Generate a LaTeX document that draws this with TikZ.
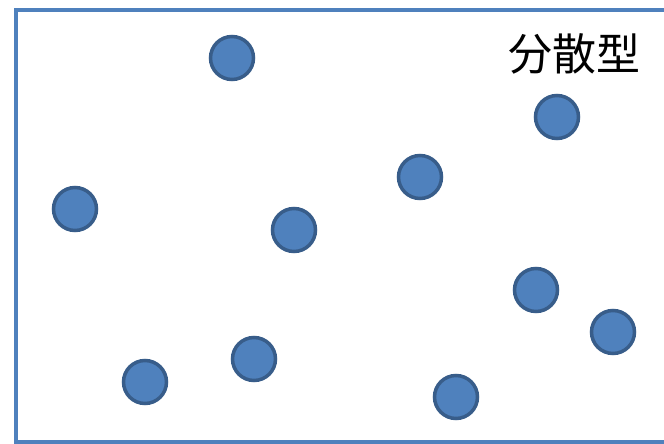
\documentclass[tikz,border=0pt]{standalone}
\usepackage{fontspec}
\newfontfamily\cjk{Noto Sans CJK JP}
\definecolor{dotfill}{HTML}{4F81BD}
\definecolor{dotline}{HTML}{385D8A}
\definecolor{frame}{HTML}{4F81BD}
\begin{document}
\begin{tikzpicture}[x=1pt,y=-1pt,
  dot/.style={circle,draw=dotline,fill=dotfill,line width=3.5pt,minimum size=43pt,inner sep=0pt},
  lbl/.style={font=\cjk\fontsize{44}{50}\selectfont,inner sep=0pt}]
\useasboundingbox (0,0) rectangle (664,444);
\draw[frame,line width=4pt] (680,10) -- (16,10) -- (16,441.5) -- (680,441.5);
\node[lbl] (t) at (574,54) {分散型};
\node[dot] (d1) at (232,58) {};
\node[dot] (d2) at (557,117) {};
\node[dot] (d3) at (420,177) {};
\node[dot] (d4) at (75,209) {};
\node[dot] (d5) at (294,230) {};
\node[dot] (d6) at (536,290) {};
\node[dot] (d7) at (613,332) {};
\node[dot] (d8) at (254,359) {};
\node[dot] (d9) at (145,382) {};
\node[dot] (d10) at (456,397) {};
\end{tikzpicture}
\end{document}
